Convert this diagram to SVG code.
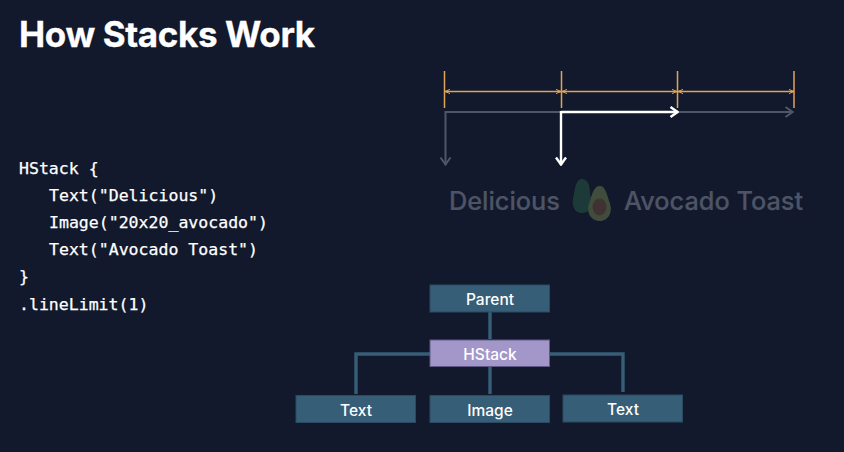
<svg xmlns="http://www.w3.org/2000/svg" width="844" height="452" viewBox="0 0 844 452">
<style>
.title{font:700 35px Inter,"Liberation Sans",sans-serif;fill:#fff;stroke:#fff;stroke-width:.3;letter-spacing:-.37px}
.code{font:500 16.55px "DejaVu Sans Mono","Liberation Mono",monospace;fill:#fff;stroke:#fff;stroke-width:.25}
.ghost{font:500 25.3px Inter,"Liberation Sans",sans-serif;fill:#4e5466;stroke:#4e5466;stroke-width:.2}
.box{fill:#365e76;stroke:#2a4a62;stroke-width:1}
.hbox{fill:#a397c9;stroke:#5f5a85;stroke-width:1}
.lbl{font:500 15.5px Inter,"Liberation Sans",sans-serif;fill:#fff;text-anchor:middle}
.tree{fill:none;stroke:#365e76;stroke-width:3.4}
.tick{stroke:#e0a458;stroke-width:1.5}
.dim{stroke:#e0a458;stroke-width:1.5;marker-start:url(#oa);marker-end:url(#oa)}
.g{fill:none;stroke:#50566a;stroke-width:2}
.w{fill:none;stroke:#fff;stroke-width:2.4}
.ga{marker-end:url(#ga)}
.wa{marker-end:url(#wa)}
</style>
<defs>
<filter id="soft" x="-10%" y="-10%" width="120%" height="120%"><feGaussianBlur stdDeviation="0.7"/></filter>
<marker id="oa" viewBox="0 0 6 6" refX="6" refY="3" markerWidth="5" markerHeight="5" markerUnits="userSpaceOnUse" orient="auto-start-reverse"><path d="M0 0.5L6 3L0 5.500" fill="none" stroke="#e0a458" stroke-width="1.2"/></marker>
<marker id="ga" viewBox="0 0 10 12" refX="9.500" refY="6" markerWidth="10" markerHeight="12" markerUnits="userSpaceOnUse" orient="auto"><path d="M2 1L9 6L2 11" fill="none" stroke="#50566a" stroke-width="2"/></marker>
<marker id="wa" viewBox="0 0 10 12" refX="9.500" refY="6" markerWidth="10" markerHeight="12" markerUnits="userSpaceOnUse" orient="auto"><path d="M2 1L9 6L2 11" fill="none" stroke="#fff" stroke-width="2.4"/></marker>
</defs>
<rect width="844" height="452" fill="#12192c"/>
<text class="title" x="19" y="47">How Stacks Work</text>
<g id="code">
<text class="code" x="19" y="174">HStack {</text>
<text class="code" x="49" y="201">Text("Delicious")</text>
<text class="code" x="49" y="228">Image("20x20_avocado")</text>
<text class="code" x="49" y="255">Text("Avocado Toast")</text>
<text class="code" x="19" y="282">}</text>
<text class="code" x="19" y="310">.lineLimit(1)</text>
</g>
<g id="connectors">
<path class="tick" d="M444.500 71V108M561.500 71V108M677.500 71V108M794 71V108"/>
<path class="dim" d="M445 91.500H561"/>
<path class="dim" d="M562 91.500H677"/>
<path class="dim" d="M678 91.500H794"/>
<path class="g ga" d="M445 112H793"/>
<path class="g ga" d="M445.500 111V165"/>
<path class="w wa" d="M561 112H678"/>
<path class="w wa" d="M561 111V165"/>
<path class="tree" d="M490 312V339M490 394V367M430 354H356V394M550 354H623V392"/>
</g>
<g id="preview">
<text class="ghost" x="449" y="210">Delicious</text>
<text class="ghost" x="624" y="210">Avocado Toast</text>
<g id="avocado" filter="url(#soft)">
<path d="M582 179C588 179 590 186 590 194C592 202 592 213 582 213C574 213 572 205 573 199C575 192 575 179 582 179Z" fill="#1e3a39"/>
<path d="M600 186C605 186 607 194 609 201C614 212 608 221 600 221C591 221 585 212 590 201C592 194 594 186 600 186Z" fill="#414e3c"/>
<ellipse cx="599.500" cy="207" rx="7" ry="8.500" fill="#3f3232"/>
</g>
</g>
<g id="node-parent"><rect class="box" x="430" y="285" width="119.500" height="27"/><text class="lbl" x="490" y="305">Parent</text></g>
<g id="node-hstack"><rect class="hbox" x="430" y="340" width="119.500" height="26.500"/><text class="lbl" x="490" y="360">HStack</text></g>
<g id="node-text1"><rect class="box" x="296" y="395.500" width="119.500" height="27"/><text class="lbl" x="356" y="416">Text</text></g>
<g id="node-image"><rect class="box" x="430" y="395.500" width="119.500" height="27"/><text class="lbl" x="490" y="416">Image</text></g>
<g id="node-text2"><rect class="box" x="563" y="395" width="119.500" height="27"/><text class="lbl" x="623" y="415">Text</text></g>
</svg>
